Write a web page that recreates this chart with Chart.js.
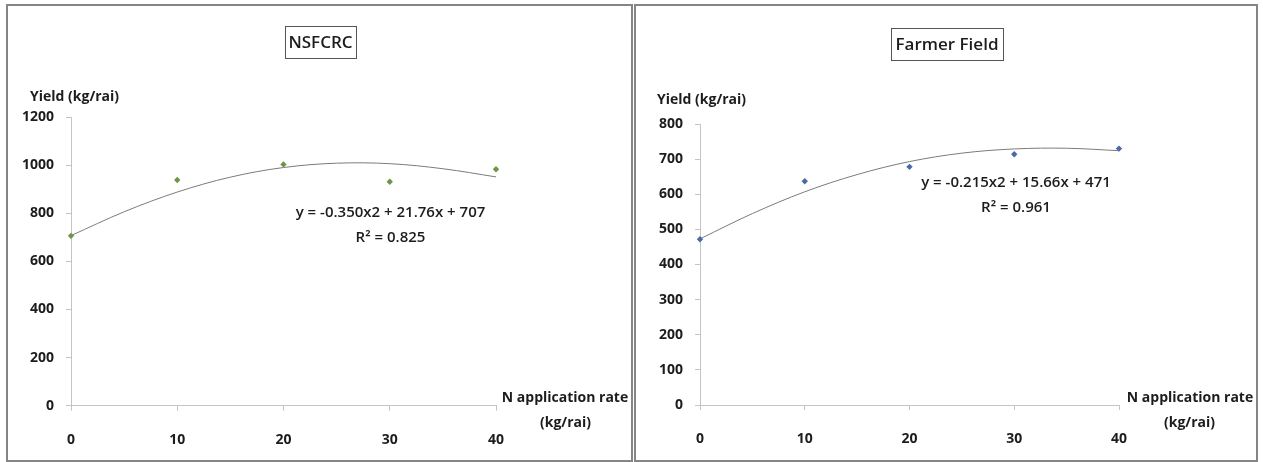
<!DOCTYPE html>
<html><head><meta charset="utf-8">
<script src="https://cdn.jsdelivr.net/npm/chart.js@4.4.1/dist/chart.umd.min.js"></script>
<style>
html,body{margin:0;padding:0;background:#fff;width:1263px;height:462px;overflow:hidden;}
.panel{position:absolute;box-sizing:border-box;border:2px solid #858585;}
.wrap{position:absolute;}
canvas{display:block;}
</style></head><body>
<div class="panel" style="left:6px;top:4px;width:627px;height:458px;"></div>
<div class="panel" style="left:634px;top:4px;width:624px;height:458px;"></div>
<div class="wrap" style="left:8px;top:6px;"><canvas id="c1" width="623" height="454"></canvas></div>
<div class="wrap" style="left:636px;top:6px;"><canvas id="c2" width="620" height="454"></canvas></div>
<script>
// ---- data ----
const xRates = [0, 10, 20, 30, 40];
const nsfcrcYield = [706, 938, 1003, 931, 983];
const farmerYield = [472, 637, 678, 714, 730];
const trendX = [0, 5, 10, 15, 20, 25, 30, 35, 40];
const nsfcrcTrend = [707, 806, 888, 950, 990, 1008, 1006, 985, 951];
const farmerTrend = [473, 545, 607, 656, 693, 717, 729, 731, 724];
const xTickLabels = [0, 10, 20, 30, 40];
const nsfcrcYTicks = [0, 200, 400, 600, 800, 1000, 1200];
const farmerYTicks = [0, 100, 200, 300, 400, 500, 600, 700, 800];
const nsfcrcTitle = 'NSFCRC';
const farmerTitle = 'Farmer Field';
const nsfcrcEq = 'y = -0.350x2 + 21.76x + 707';
const nsfcrcR2 = 'R\u00B2 = 0.825';
const farmerEq = 'y = -0.215x2 + 15.66x + 471';
const farmerR2 = 'R\u00B2 = 0.961';
const yTitle = 'Yield (kg/rai)';
const xTitle1 = 'N application rate';
const xTitle2 = '(kg/rai)';

const FONT = "'Open Sans', 'Noto Sans', sans-serif";
const TXT = '#1c1c1c';
const AXIS = '#c4c4c4';

const textPlugin = {
  id: 'texts',
  afterDraw(chart, args, opts) {
    const ctx = chart.ctx;
    ctx.save();
    (opts.items || []).forEach(t => {
      ctx.font = t.font;
      ctx.fillStyle = TXT;
      ctx.textAlign = t.align || 'center';
      ctx.textBaseline = 'middle';
      ctx.fillText(t.text, t.x, t.y);
      if (t.box) {
        ctx.strokeStyle = '#555';
        ctx.lineWidth = 1;
        ctx.strokeRect(t.box[0] + 0.5, t.box[1] + 0.5, t.box[2], t.box[3]);
      }
    });
    ctx.restore();
  }
};

function pts(xs, ys) { return xs.map((x, i) => ({ x: x, y: ys[i] })); }

function makeChart(id, cfg) {
  return new Chart(document.getElementById(id), {
    type: 'scatter',
    data: {
      datasets: [
        {
          type: 'line', data: pts(trendX, cfg.trend), borderColor: '#7b7b7b', borderWidth: 1,
          pointRadius: 0, tension: 0.35, fill: false, order: 2, clip: false
        },
        {
          data: pts(xRates, cfg.values), pointStyle: 'rectRot', pointRadius: 3.2,
          backgroundColor: cfg.color, borderColor: cfg.color, borderWidth: 0, showLine: false, order: 1, clip: false
        }
      ]
    },
    options: {
      responsive: false, animation: false,
      layout: { padding: { left: 0, top: cfg.top, right: cfg.right, bottom: 0 } },
      plugins: { legend: { display: false }, tooltip: { enabled: false }, title: { display: false },
        texts: { items: cfg.texts } },
      scales: {
        x: {
          type: 'linear', min: 0, max: 40,
          afterBuildTicks: s => { s.ticks = xTickLabels.map(v => ({ value: v })); },
          afterFit: s => { s.height = cfg.xh; },
          grid: { drawOnChartArea: false, drawTicks: true, tickLength: 5, color: AXIS },
          border: { display: true, color: AXIS },
          ticks: { color: TXT, font: { family: FONT, size: 14, weight: '700' }, padding: 21, maxRotation: 0,
            callback: v => String(v) }
        },
        y: {
          type: 'linear', min: 0, max: cfg.ymax,
          afterBuildTicks: s => { s.ticks = cfg.yticks.map(v => ({ value: v })); },
          afterFit: s => { s.width = cfg.yw; },
          grid: { drawOnChartArea: false, drawTicks: true, tickLength: 5, color: AXIS },
          border: { display: true, color: AXIS },
          ticks: { color: TXT, font: { family: FONT, size: 14, weight: '700' }, padding: 12,
            callback: v => String(v) }
        }
      }
    },
    plugins: [textPlugin]
  });
}

const tf = (s, w) => (w || '700') + ' ' + s + 'px ' + FONT;

makeChart('c1', {
  values: nsfcrcYield, trend: nsfcrcTrend, color: '#6f9445', ymax: 1200, yticks: nsfcrcYTicks,
  top: 111, right: 135, xh: 54.3, yw: 63,
  texts: [
    { text: nsfcrcTitle, x: 312.5, y: 37, font: tf(17, '600'), box: [277, 20, 71, 32] },
    { text: yTitle, x: 22, y: 91, font: tf(14), align: 'left' },
    { text: nsfcrcEq, x: 382.5, y: 207, font: tf(15, '600') },
    { text: nsfcrcR2, x: 382.5, y: 232, font: tf(15, '600') },
    { text: xTitle1, x: 557, y: 392, font: tf(14) },
    { text: xTitle2, x: 557.5, y: 417, font: tf(14) }
  ]
});

makeChart('c2', {
  values: farmerYield, trend: farmerTrend, color: '#4a6aa5', ymax: 800, yticks: farmerYTicks,
  top: 118, right: 137, xh: 55, yw: 64,
  texts: [
    { text: farmerTitle, x: 311, y: 39, font: tf(17, '600'), box: [255, 22, 112, 32] },
    { text: yTitle, x: 21, y: 94, font: tf(14), align: 'left' },
    { text: farmerEq, x: 380, y: 177, font: tf(15, '600') },
    { text: farmerR2, x: 380, y: 202, font: tf(15, '600') },
    { text: xTitle1, x: 554, y: 392, font: tf(14) },
    { text: xTitle2, x: 553.5, y: 417, font: tf(14) }
  ]
});
</script>
</body></html>
